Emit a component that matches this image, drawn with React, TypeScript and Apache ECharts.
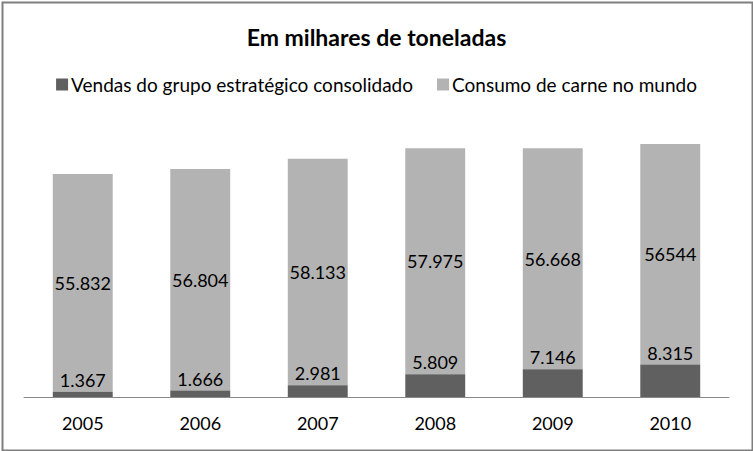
import React, { useEffect, useRef } from "react";
import * as echarts from "echarts";

const years = ["2005", "2006", "2007", "2008", "2009", "2010"];
const vendas = [1367, 1666, 2981, 5809, 7146, 8315];
const consumo = [55832, 56804, 58133, 57975, 56668, 56544];
const vendasLabels = ["1.367", "1.666", "2.981", "5.809", "7.146", "8.315"];
const consumoLabels = ["55.832", "56.804", "58.133", "57.975", "56.668", "56544"];

const FONT = "Lato, 'Open Sans', sans-serif";

export default function App() {
  const ref = useRef<HTMLDivElement>(null);
  useEffect(() => {
    if (!ref.current) return;
    const chart = echarts.init(ref.current, undefined, { renderer: "svg" });
    chart.setOption({
      animation: false,
      backgroundColor: "#ffffff",
      title: {
        text: "Em milhares de toneladas",
        left: "center",
        top: 20,
        textStyle: { fontFamily: FONT, fontSize: 23, fontWeight: "bold", color: "#000" },
      },
      legend: {
        top: 70,
        left: "center",
        itemWidth: 12,
        itemHeight: 12,
        itemGap: 24,
        icon: "rect",
        textStyle: { fontFamily: FONT, fontSize: 19, color: "#000", padding: [0, 0, 0, -2] },
        data: ["Vendas do grupo estratégico consolidado", "Consumo de carne no mundo"],
      },
      grid: { left: 24, right: 24, top: 124, bottom: 54, containLabel: false },
      xAxis: {
        type: "category",
        data: years,
        axisLine: { show: true, lineStyle: { color: "#888888", width: 1 } },
        axisTick: { show: false },
        axisLabel: { fontFamily: FONT, fontSize: 18, color: "#000", margin: 17 },
      },
      yAxis: {
        type: "value",
        min: 0,
        max: 70000,
        interval: 10000,
        show: false,
        splitLine: { show: false },
      },
      graphic: [
        {
          type: "rect",
          left: 0,
          top: 0,
          shape: { x: 1, y: 1, width: 750, height: 448 },
          style: { fill: "none", stroke: "#7f7f7f", lineWidth: 2 },
          silent: true,
        },
      ],
      series: [
        {
          name: "Vendas do grupo estratégico consolidado",
          type: "bar",
          stack: "total",
          data: vendas,
          barWidth: "51%",
          itemStyle: { color: "#606060" },
          label: {
            show: true,
            position: "top",
            distance: 3,
            fontFamily: FONT,
            fontSize: 18,
            color: "#000",
            formatter: (p: any) => vendasLabels[p.dataIndex],
          },
        },
        {
          name: "Consumo de carne no mundo",
          type: "bar",
          stack: "total",
          data: consumo,
          barWidth: "51%",
          itemStyle: { color: "#b3b3b3" },
          label: {
            show: true,
            position: "inside",
            fontFamily: FONT,
            fontSize: 18,
            color: "#000",
            formatter: (p: any) => consumoLabels[p.dataIndex],
          },
          z: 1,
        },
      ],
    });
    return () => chart.dispose();
  }, []);
  return (
    <div
      ref={ref}
      style={{ position: "absolute", left: 0, top: 0, width: 753, height: 451 }}
    />
  );
}
